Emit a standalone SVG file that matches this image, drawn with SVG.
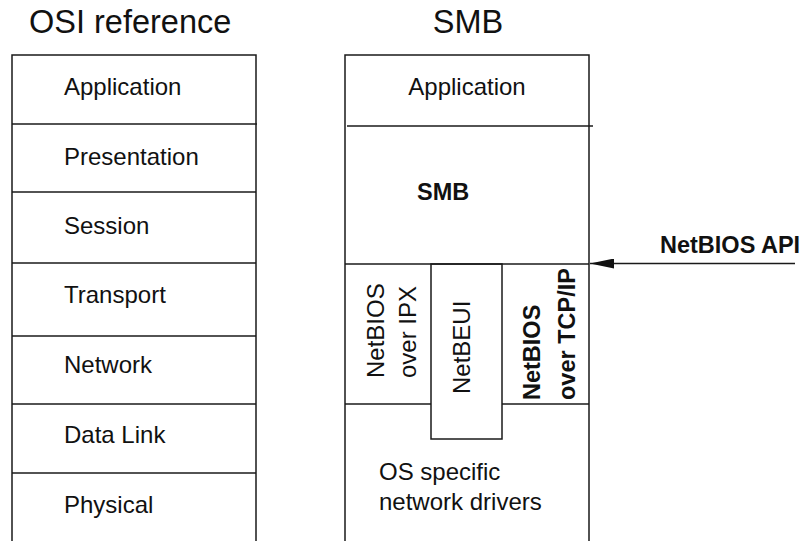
<svg xmlns="http://www.w3.org/2000/svg" width="802" height="541" viewBox="0 0 802 541">
<style>
.ln{stroke:#1a1a1a;stroke-width:1.5;fill:none}
.t{font-family:"Liberation Sans",Arial,sans-serif;font-size:24px;fill:#111}
.b{font-family:"Liberation Sans",Arial,sans-serif;font-size:23.5px;font-weight:bold;fill:#111}
.h{font-family:"Liberation Sans",Arial,sans-serif;font-size:32.5px;fill:#111}
</style>
<defs>
<marker id="ah" markerWidth="24" markerHeight="10" refX="24" refY="5" orient="auto" markerUnits="userSpaceOnUse">
<path d="M0,0 L24,5 L0,10 Z" fill="#111"/>
</marker>
</defs>
<rect width="802" height="541" fill="#fff"/>
<text class="h" x="29" y="33">OSI reference</text>
<text class="h" x="468" y="33" text-anchor="middle">SMB</text>
<g id="osi">
<path class="ln" d="M12,541 V55 H256 V541"/>
<g id="osi-application"><text class="t" x="64" y="95">Application</text></g>
<line class="ln" x1="12" y1="124" x2="257" y2="124"/>
<g id="osi-presentation"><text class="t" x="64" y="165">Presentation</text></g>
<line class="ln" x1="12" y1="192" x2="256" y2="192"/>
<g id="osi-session"><text class="t" x="64" y="234">Session</text></g>
<line class="ln" x1="12" y1="263" x2="256" y2="263"/>
<g id="osi-transport"><text class="t" x="64" y="303">Transport</text></g>
<line class="ln" x1="12" y1="336" x2="256" y2="336"/>
<g id="osi-network"><text class="t" x="64" y="373">Network</text></g>
<line class="ln" x1="12" y1="404" x2="256" y2="404"/>
<g id="osi-datalink"><text class="t" x="64" y="443">Data Link</text></g>
<line class="ln" x1="12" y1="473" x2="256" y2="473"/>
<g id="osi-physical"><text class="t" x="64" y="513">Physical</text></g>
</g>
<g id="smb">
<path class="ln" d="M345,541 V55 H589 V541"/>
<g id="smb-application"><text class="t" x="467" y="95" text-anchor="middle">Application</text></g>
<line class="ln" x1="347" y1="126" x2="593" y2="126"/>
<g id="smb-smb"><text class="b" x="417" y="200">SMB</text></g>
<line class="ln" x1="345" y1="264" x2="589" y2="264"/>
<g id="netbios-ipx">
<line class="ln" x1="345" y1="404" x2="431" y2="404"/>
<text class="t" transform="translate(384,378) rotate(-90)">NetBIOS</text>
<text class="t" transform="translate(416,378) rotate(-90)">over IPX</text>
</g>
<g id="netbeui">
<rect class="ln" x="431" y="264" width="71" height="175"/>
<text class="t" transform="translate(470,394) rotate(-90)">NetBEUI</text>
</g>
<g id="netbios-tcpip">
<line class="ln" x1="502" y1="404" x2="589" y2="404"/>
<text class="b" transform="translate(540,400) rotate(-90)">NetBIOS</text>
<text class="b" transform="translate(575,400) rotate(-90)">over TCP/IP</text>
</g>
<g id="drivers">
<text class="t" x="379" y="480">OS specific</text>
<text class="t" x="379" y="510">network drivers</text>
</g>
</g>
<g id="connectors">
<line class="ln" x1="795" y1="263.5" x2="590" y2="263.5" marker-end="url(#ah)"/>
</g>
<g id="api"><text class="b" x="660" y="253">NetBIOS API</text></g>
</svg>
